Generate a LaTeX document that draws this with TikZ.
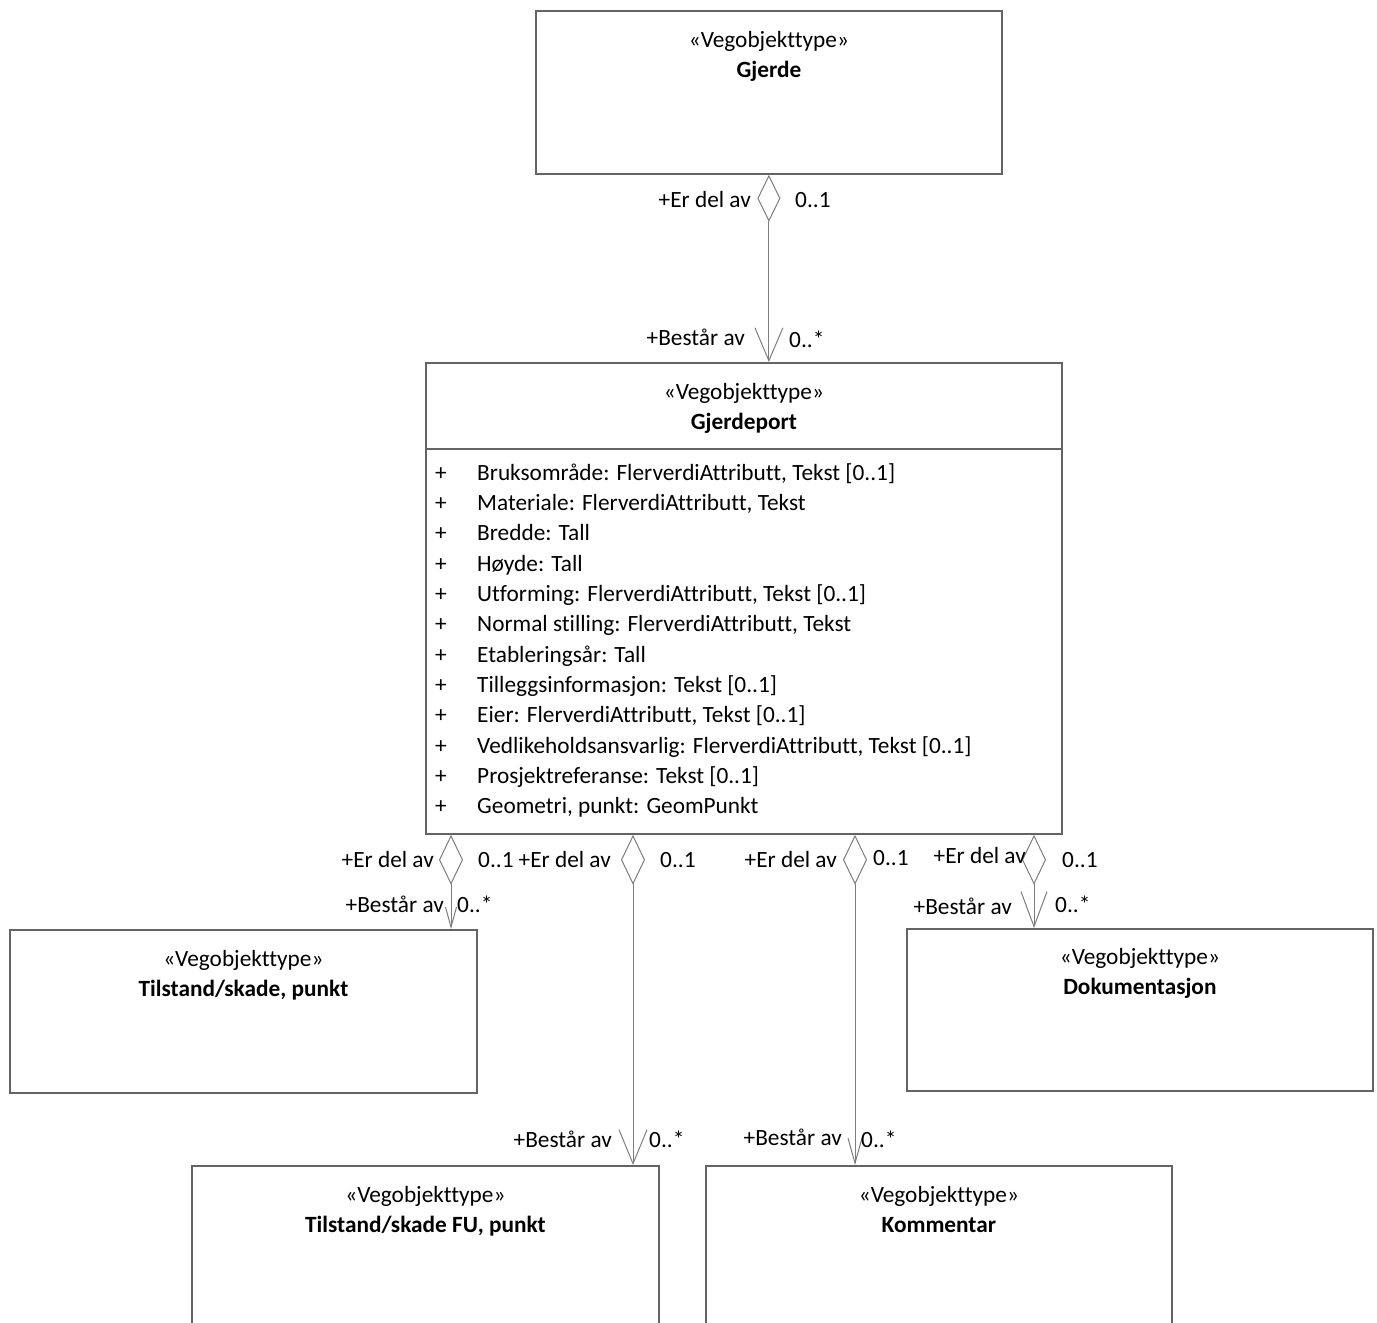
\documentclass[tikz,border=0pt]{standalone}
\usepackage{fontspec}
\setmainfont{Carlito}[Ligatures={NoCommon}]
\usepackage{tikz}
\usetikzlibrary{arrows.meta, positioning, calc}
\usepackage{xcolor}
\definecolor{boxgray}{RGB}{100,100,100}
\definecolor{linegray}{RGB}{125,125,125}
\newcommand{\umlfont}{\fontsize{23.3}{30.3}\selectfont}

\begin{document}
\begin{tikzpicture}[x=1pt, y=-1pt,
  box/.style={draw=boxgray, line width=1.8pt, anchor=north west, inner sep=0pt},
  lbl/.style={font=\umlfont, inner sep=0pt},
  aggr/.style={draw=linegray, line width=1pt}]
  \useasboundingbox (0,0) rectangle (1377,1323);

  % classes
  \node[box, minimum width=466pt, minimum height=163pt] (gjerde) at (535,10) {};
  \node[box, minimum width=636pt, minimum height=471pt] (gjerdeport) at (425,362) {};
  \node[box, minimum width=467pt, minimum height=163pt] (tsp) at (9,929) {};
  \node[box, minimum width=466pt, minimum height=162pt] (dok) at (906,928) {};
  \node[box, minimum width=467pt, minimum height=220pt] (tsfu) at (191,1165) {};
  \node[box, minimum width=466pt, minimum height=220pt] (komm) at (705,1165) {};
  \draw[boxgray, line width=1.5pt] (gjerdeport.west |- 0,449) -- (gjerdeport.east |- 0,449);

  % stereotypes and names
  \node[lbl, anchor=base] (gjerdeS) at ($(gjerde.north)+(0,37)$) {«Vegobjekttype»};
  \node[lbl, anchor=base] (gjerdeN) at ($(gjerde.north)+(0,67)$) {\textbf{Gjerde}};
  \node[lbl, anchor=base] (gjerdeportS) at ($(gjerdeport.north)+(0,37)$) {«Vegobjekttype»};
  \node[lbl, anchor=base] (gjerdeportN) at ($(gjerdeport.north)+(0,67)$) {\textbf{Gjerdeport}};
  \node[lbl, anchor=base] (tspS) at ($(tsp.north)+(0,37)$) {«Vegobjekttype»};
  \node[lbl, anchor=base] (tspN) at ($(tsp.north)+(0,67)$) {\textbf{Tilstand/skade, punkt}};
  \node[lbl, anchor=base] (dokS) at ($(dok.north)+(0,36)$) {«Vegobjekttype»};
  \node[lbl, anchor=base] (dokN) at ($(dok.north)+(0,66)$) {\textbf{Dokumentasjon}};
  \node[lbl, anchor=base] (tsfuS) at ($(tsfu.north)+(0,37)$) {«Vegobjekttype»};
  \node[lbl, anchor=base] (tsfuN) at ($(tsfu.north)+(0,67)$) {\textbf{Tilstand/skade FU, punkt}};
  \node[lbl, anchor=base] (kommS) at ($(komm.north)+(0,37)$) {«Vegobjekttype»};
  \node[lbl, anchor=base] (kommN) at ($(komm.north)+(0,67)$) {\textbf{Kommentar}};

  % attributes
  \foreach \txt [count=\i] in {{Bruksområde: FlerverdiAttributt, Tekst [0..1]},
      {Materiale: FlerverdiAttributt, Tekst}, {Bredde: Tall}, {Høyde: Tall},
      {Utforming: FlerverdiAttributt, Tekst [0..1]}, {Normal stilling: FlerverdiAttributt, Tekst},
      {Etableringsår: Tall}, {Tilleggsinformasjon: Tekst [0..1]}, {Eier: FlerverdiAttributt, Tekst [0..1]},
      {Vedlikeholdsansvarlig: FlerverdiAttributt, Tekst [0..1]}, {Prosjektreferanse: Tekst [0..1]},
      {Geometri, punkt: GeomPunkt}} {
    \node[lbl, anchor=base] (plus\i) at (441, 450+30.3*\i) {+};
    \node[lbl, anchor=base west] (attr\i) at (477, 450+30.3*\i) {\txt};
  }

  % aggregations
  \draw[aggr, {Diamond[open, length=47pt, width=23pt]}-{Straight Barb[length=33pt, width=28pt]}]
    (gjerde.south) -- (gjerde.south |- gjerdeport.north);
  \draw[aggr, {Diamond[open, length=50pt, width=24pt]}-{Straight Barb[length=20pt, width=11pt]}]
    (451,0 |- gjerdeport.south) -- (451,0 |- tsp.north);
  \draw[aggr, {Diamond[open, length=50pt, width=24pt]}-{Straight Barb[length=34pt, width=28pt]}]
    (633,0 |- gjerdeport.south) -- (633,0 |- tsfu.north);
  \draw[aggr, {Diamond[open, length=50pt, width=24pt]}-{Straight Barb[length=25pt, width=14pt]}]
    (855,0 |- gjerdeport.south) -- (855,0 |- komm.north);
  \draw[aggr, {Diamond[open, length=50pt, width=24pt]}-{Straight Barb[length=35pt, width=26pt]}]
    (1034,0 |- gjerdeport.south) -- (1034,0 |- dok.north);

  % roles and multiplicities
  \node[lbl, anchor=base east] (r1a) at (751,207) {+Er del av};
  \node[lbl, anchor=base west] (m1a) at (795,207) {0..1};
  \node[lbl, anchor=base east] (r1b) at (745,345) {+Består av};
  \node[lbl, anchor=base west] (m1b) at (789,347) {0..*};

  \node[lbl, anchor=base east] (r2a) at (434,867) {+Er del av};
  \node[lbl, anchor=base west] (m2a) at (478,867) {0..1};
  \node[lbl, anchor=base east] (r2b) at (444,912) {+Består av};
  \node[lbl, anchor=base west] (m2b) at (457,912) {0..*};

  \node[lbl, anchor=base east] (r3a) at (611,867) {+Er del av};
  \node[lbl, anchor=base west] (m3a) at (660,867) {0..1};
  \node[lbl, anchor=base east] (r3b) at (612,1147) {+Består av};
  \node[lbl, anchor=base west] (m3b) at (649,1147) {0..*};

  \node[lbl, anchor=base east] (r4a) at (837,867) {+Er del av};
  \node[lbl, anchor=base west] (m4a) at (873,865) {0..1};
  \node[lbl, anchor=base east] (r4b) at (842,1145) {+Består av};
  \node[lbl, anchor=base west] (m4b) at (861,1147) {0..*};

  \node[lbl, anchor=base east] (r5a) at (1026,863) {+Er del av};
  \node[lbl, anchor=base west] (m5a) at (1062,867) {0..1};
  \node[lbl, anchor=base east] (r5b) at (1012,914) {+Består av};
  \node[lbl, anchor=base west] (m5b) at (1055,912) {0..*};
\end{tikzpicture}
\end{document}
